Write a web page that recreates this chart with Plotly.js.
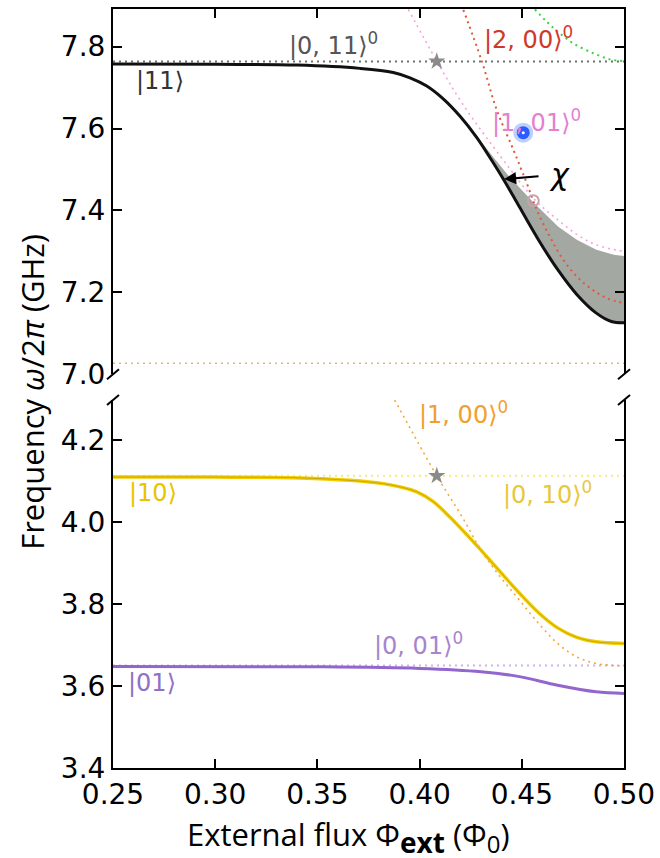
<!DOCTYPE html>
<html>
<head>
<meta charset="utf-8">
<script src="https://cdn.plot.ly/plotly-3.0.1.min.js"></script>
<style>html,body{margin:0;padding:0;background:#fff;}#chart{width:660px;height:858px;}</style>
</head>
<body>
<div id="chart"></div>
<script>
// ---------- data ----------
// top panel
const state11_x = [0.25, 0.30, 0.34, 0.3708, 0.3871, 0.3953, 0.4035, 0.4117, 0.4198, 0.4280, 0.4361, 0.4413, 0.4488, 0.4582, 0.4675, 0.4769, 0.4863, 0.4938, 0.500];
const state11_y = [7.758, 7.757, 7.755, 7.747, 7.737, 7.724, 7.704, 7.672, 7.630, 7.578, 7.516, 7.474, 7.409, 7.328, 7.256, 7.195, 7.150, 7.129, 7.126];
const chiUpper_x = [0.4198, 0.4280, 0.4361, 0.4440, 0.4556, 0.4677, 0.4771, 0.4865, 0.4950, 0.500];
const chiUpper_y = [7.630, 7.582, 7.530, 7.482, 7.420, 7.361, 7.328, 7.304, 7.292, 7.289];
const bare011_x = [0.25, 0.50];
const bare011_y = [7.764, 7.764];
const bare101_x = [0.3945, 0.4086, 0.4208, 0.4396, 0.4564, 0.4677, 0.4771, 0.4865, 0.500];
const bare101_y = [7.891, 7.763, 7.662, 7.532, 7.426, 7.377, 7.341, 7.316, 7.300];
const bare200_x = [0.4214, 0.4304, 0.4377, 0.4459, 0.4524, 0.4573, 0.4638, 0.4700, 0.4771, 0.4850, 0.4920, 0.500];
const bare200_y = [7.890, 7.765, 7.646, 7.548, 7.467, 7.402, 7.335, 7.282, 7.238, 7.205, 7.185, 7.174];
const green_x = [0.4564, 0.4620, 0.4680, 0.4752, 0.4850, 0.4932, 0.500];
const green_y = [7.891, 7.862, 7.835, 7.808, 7.784, 7.769, 7.765];
const tan_x = [0.25, 0.50];
const tan_y = [7.027, 7.027];
const starTop_x = [0.4084];
const starTop_y = [7.764];
const circle_x = [0.4556];
const circle_y = [7.424];
const blue_x = [0.4507];
const blue_y = [7.590];
// bottom panel
const state10_x = [0.25, 0.30, 0.3415, 0.3659, 0.3822, 0.3904, 0.3986, 0.4067, 0.4149, 0.4230, 0.4296, 0.4394, 0.4488, 0.4582, 0.4675, 0.4769, 0.4863, 0.500];
const state10_y = [4.110, 4.110, 4.108, 4.102, 4.094, 4.086, 4.074, 4.050, 4.012, 3.970, 3.934, 3.879, 3.827, 3.779, 3.742, 3.719, 3.708, 3.704];
const bare010_x = [0.25, 0.50];
const bare010_y = [4.113, 4.113];
const bare100_x = [0.3878, 0.4084, 0.4208, 0.430, 0.4394, 0.4488, 0.4582, 0.4675, 0.4769, 0.4863, 0.500];
const bare100_y = [4.298, 4.113, 4.013, 3.932, 3.867, 3.810, 3.753, 3.704, 3.671, 3.655, 3.649];
const state01_x = [0.25, 0.35, 0.40, 0.43, 0.4488, 0.4675, 0.4863, 0.500];
const state01_y = [3.648, 3.647, 3.643, 3.635, 3.623, 3.602, 3.586, 3.582];
const bare001_x = [0.25, 0.50];
const bare001_y = [3.650, 3.650];
const starBot_x = [0.4084];
const starBot_y = [4.113];
// ticks
const xTicks = [0.25, 0.30, 0.35, 0.40, 0.45, 0.50];
const yTicksTop = [7.0, 7.2, 7.4, 7.6, 7.8];
const yTicksBot = [3.4, 3.6, 3.8, 4.0, 4.2];
// labels
const labelTexts = ['|11⟩', '|0, 11⟩<sup>0</sup>', '|2, 00⟩<sup>0</sup>', '|1, 01⟩<sup>0</sup>',
                    '|1, 00⟩<sup>0</sup>', '|10⟩', '|0, 10⟩<sup>0</sup>', '|0, 01⟩<sup>0</sup>', '|01⟩'];
const labelX = [0.273, 0.3579, 0.4535, 0.457, 0.4217, 0.2696, 0.4628, 0.3997, 0.269];
const labelY = [7.715, 7.806, 7.822, 7.619, 4.267, 4.070, 4.070, 3.702, 3.607];
const labelPanel = ['top','top','top','top','bot','bot','bot','bot','bot'];
const labelColors = ['#333333', '#555555', '#d0382a', '#e57fcf', '#f0a030', '#e8c400', '#e8c83a', '#a585cf', '#9070c8'];

// ---------- traces ----------
const DOT = '2px,4px';
function line(x, y, color, width, dash, axis) {
  return {x, y, type:'scatter', mode:'lines', hoverinfo:'skip', showlegend:false,
          line:{color, width, dash: dash || 'solid', shape:'spline', smoothing:1},
          xaxis: axis==='top' ? 'x2' : 'x', yaxis: axis==='top' ? 'y2' : 'y'};
}
const fillX = state11_x.filter(v => v >= chiUpper_x[0]).concat(chiUpper_x.slice().reverse());
const fillY = state11_y.filter((v,i) => state11_x[i] >= chiUpper_x[0]).concat(chiUpper_y.slice().reverse());

const traces = [
  {x: fillX, y: fillY, type:'scatter', mode:'lines', fill:'toself', fillcolor:'#a3a8a3',
   line:{width:0, color:'rgba(0,0,0,0)'}, hoverinfo:'skip', showlegend:false, xaxis:'x2', yaxis:'y2'},
  line(tan_x, tan_y, '#e9b27c', 1.6, DOT, 'top'),
  line(bare011_x, bare011_y, '#6f736f', 2, DOT, 'top'),
  line(green_x, green_y, '#3fcf3f', 2, DOT, 'top'),
  line(bare101_x, bare101_y, '#f5a3dc', 1.6, DOT, 'top'),
  line(bare200_x, bare200_y, '#e0583a', 2, DOT, 'top'),
  line(state11_x, state11_y, '#111111', 3, 'solid', 'top'),
  {x: starTop_x, y: starTop_y, type:'scatter', mode:'markers', hoverinfo:'skip', showlegend:false,
   marker:{symbol:'star', size:13, color:'#8a8a8a'}, xaxis:'x2', yaxis:'y2'},
  {x: circle_x, y: circle_y, type:'scatter', mode:'markers', hoverinfo:'skip', showlegend:false,
   marker:{symbol:'circle-open', size:11, color:'#c9a2ab', line:{width:2, color:'#c9a2ab'}}, xaxis:'x2', yaxis:'y2'},
  {x: blue_x, y: blue_y, type:'scatter', mode:'markers', hoverinfo:'skip', showlegend:false,
   marker:{symbol:'circle', size:20, color:'rgba(70,120,255,0.35)'}, xaxis:'x2', yaxis:'y2'},
  {x: blue_x, y: blue_y, type:'scatter', mode:'markers', hoverinfo:'skip', showlegend:false,
   marker:{symbol:'circle', size:13, color:'#2a5cff'}, xaxis:'x2', yaxis:'y2'},
  {x: blue_x, y: blue_y, type:'scatter', mode:'markers', hoverinfo:'skip', showlegend:false,
   marker:{symbol:'circle', size:3, color:'#ffffff'}, xaxis:'x2', yaxis:'y2'},
  // bottom
  line(bare010_x, bare010_y, '#f7ea80', 2, DOT, 'bot'),
  line(bare001_x, bare001_y, '#cdb3ec', 2, DOT, 'bot'),
  line(state01_x, state01_y, '#9266cc', 3, 'solid', 'bot'),
  line(state10_x, state10_y, '#f2cc00', 3.5, 'solid', 'bot'),
  line(state10_x, state10_y, '#c9a800', 1, 'solid', 'bot'),
  line(bare100_x, bare100_y, '#f6a63a', 1.6, DOT, 'bot'),
  {x: starBot_x, y: starBot_y, type:'scatter', mode:'markers', hoverinfo:'skip', showlegend:false,
   marker:{symbol:'star', size:13, color:'#8a8a8a'}, xaxis:'x', yaxis:'y'}
];

// ---------- layout ----------
const tickFont = {family:'DejaVu Sans', size:28, color:'#000'};
const axBase = {showline:true, linewidth:2, linecolor:'#000', ticks:'inside', ticklen:9, tickwidth:2,
                tickcolor:'#000', showgrid:false, zeroline:false, tickfont:tickFont};
const breakShapes = [];
[[0, 0.5187], [1, 0.5187], [0, 0.4848], [1, 0.4848]].forEach(([xa, ya]) => {
  breakShapes.push({type:'line', xref:'paper', yref:'paper', xsizemode:'pixel', ysizemode:'pixel',
    xanchor:xa, yanchor:ya, x0:-6, x1:6, y0:-5, y1:5, line:{color:'#000', width:2}});
});

const annotations = labelTexts.map((t, i) => ({
  text: t, x: labelX[i], y: labelY[i], xref: labelPanel[i]==='top' ? 'x2' : 'x', yref: labelPanel[i]==='top' ? 'y2' : 'y',
  showarrow:false, font:{family:'DejaVu Sans', size:24, color: labelColors[i]}, xanchor:'center', yanchor:'middle'
}));
annotations.push({text:'<i>χ</i>', x:0.4682, y:7.487, xref:'x2', yref:'y2', showarrow:false,
  font:{family:'DejaVu Sans', size:30, color:'#000'}});
annotations.push({text:'', x:0.4413, y:7.4766, xref:'x2', yref:'y2', showarrow:true, ax:36, ay:-3,
  arrowhead:2, arrowsize:1.1, arrowwidth:2.2, arrowcolor:'#000'});
annotations.push({text:'Frequency <i>ω</i>/2<i>π</i> (GHz)', xref:'paper', yref:'paper', x:-0.1575, y:0.495,
  textangle:-90, showarrow:false, font:{family:'Open Sans', size:31, color:'#000'}, xanchor:'center', yanchor:'middle'});
annotations.push({text:'External flux Φ<sub><span style="font-size:28px;font-weight:bold">ext</span></sub> (Φ<sub><span style="font-size:24px">0</span></sub>)',
  xref:'paper', yref:'paper', x:0.4618, y:-0.091,
  showarrow:false, font:{family:'Open Sans', size:31, color:'#000'}, xanchor:'center', yanchor:'middle'});

const layout = {
  width:660, height:858, margin:{l:113, r:36, t:9, b:90}, paper_bgcolor:'#fff', plot_bgcolor:'#fff',
  showlegend:false,
  xaxis: Object.assign({}, axBase, {anchor:'y', range:[0.25, 0.5], tickvals:xTicks, tickformat:'.2f', mirror:false}),
  xaxis2: Object.assign({}, axBase, {anchor:'y2', matches:'x', range:[0.25, 0.5], tickvals:xTicks, side:'top', showticklabels:false, mirror:false}),
  yaxis: Object.assign({}, axBase, {anchor:'x', domain:[0, 0.4848], range:[3.4, 4.298], tickvals:yTicksBot, tickformat:'.1f', mirror:'ticks'}),
  yaxis2: Object.assign({}, axBase, {anchor:'x2', domain:[0.5187, 1], range:[7.0, 7.892], tickvals:yTicksTop, tickformat:'.1f', mirror:'ticks'}),
  shapes: breakShapes,
  annotations: annotations
};

Plotly.newPlot('chart', traces, layout, {staticPlot:true, displayModeBar:false});
</script>
</body>
</html>
